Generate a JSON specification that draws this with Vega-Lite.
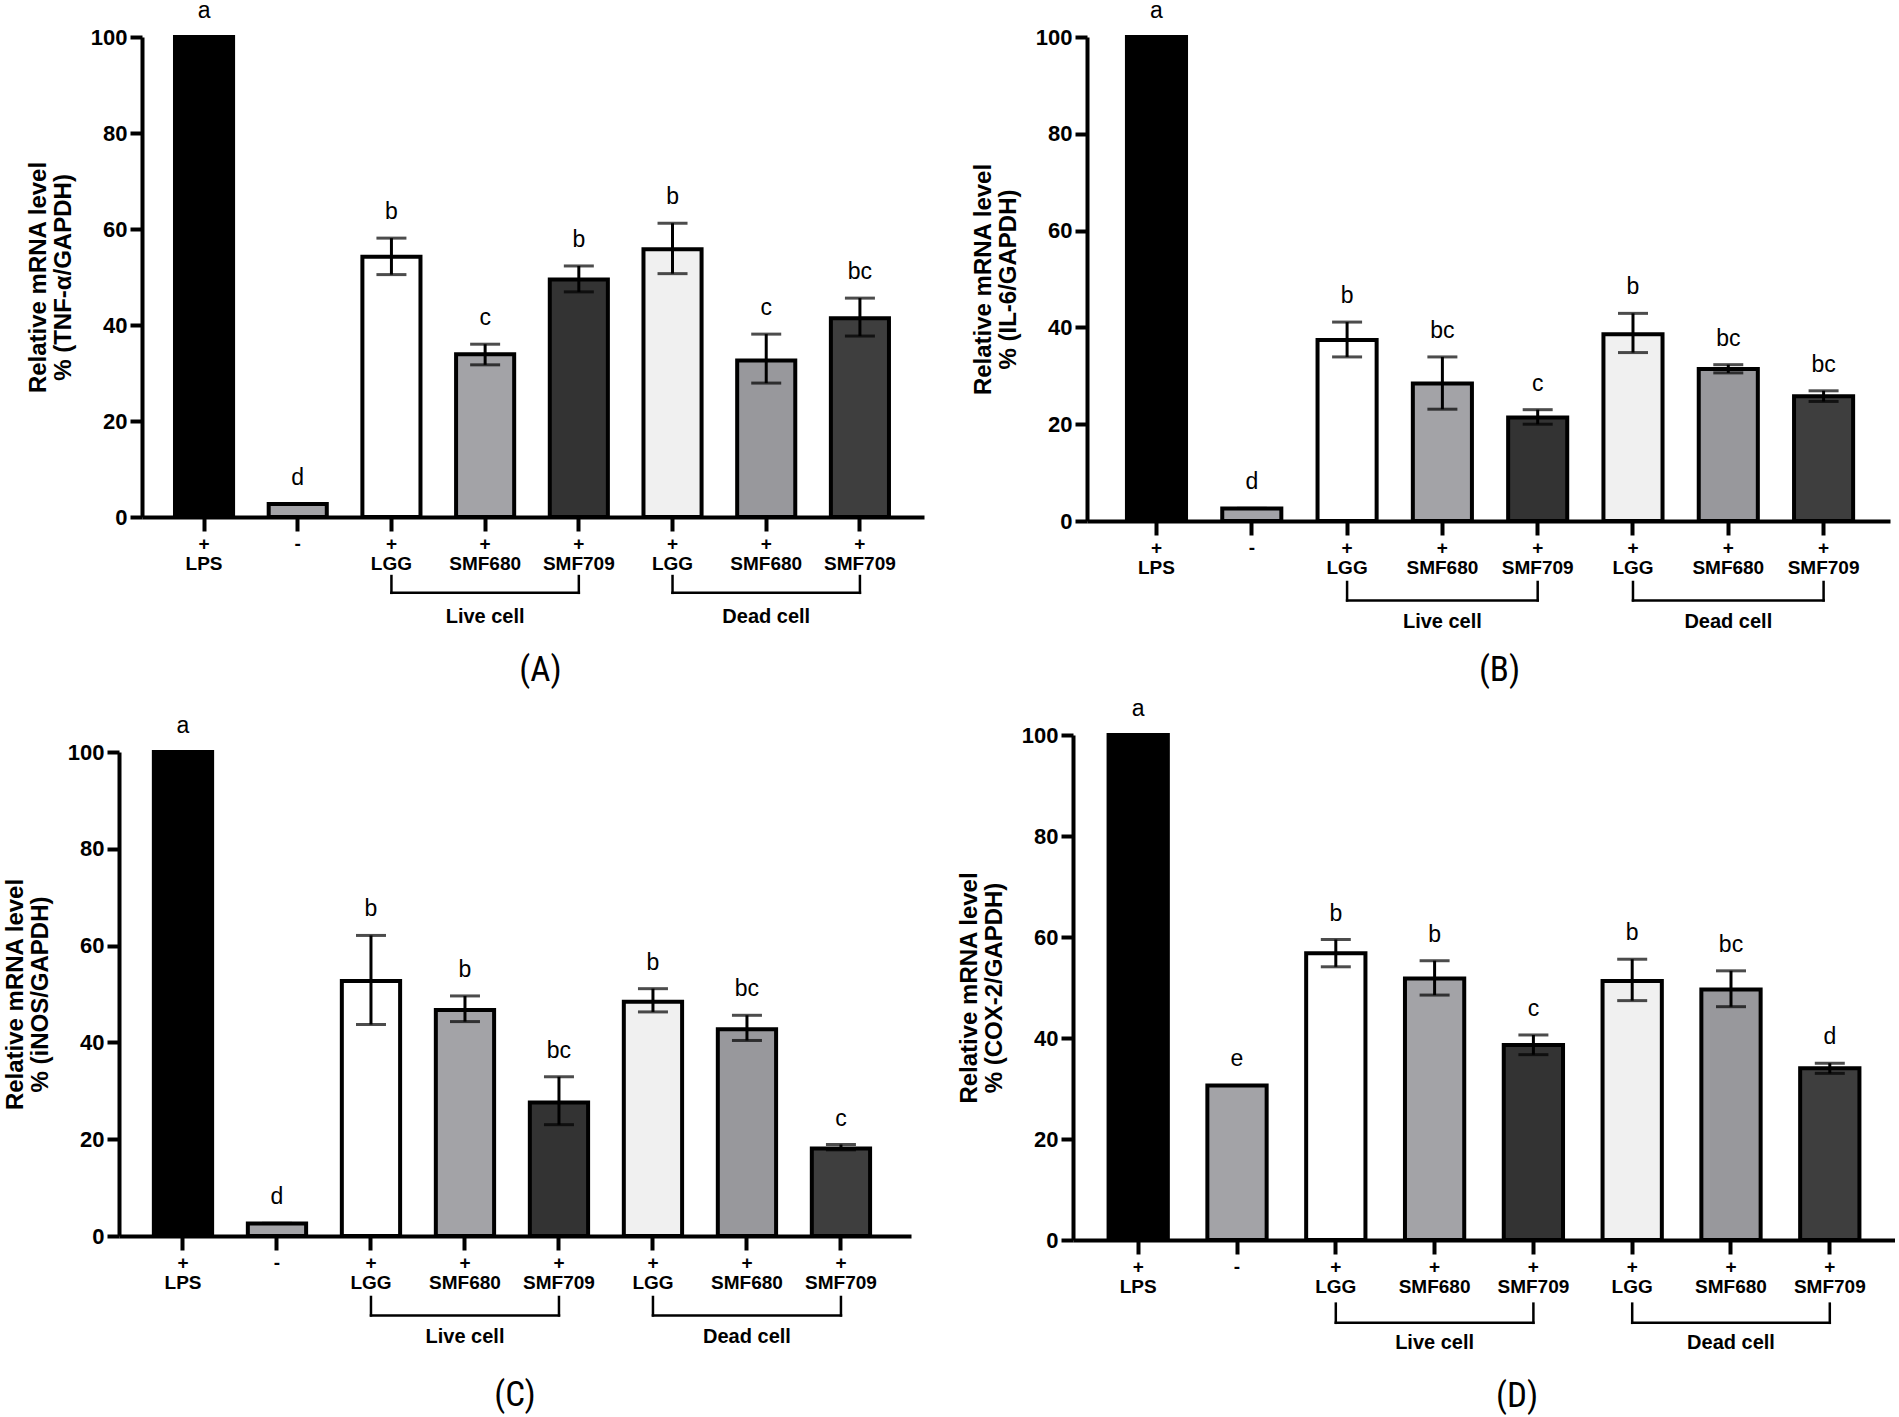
{
  "$schema": "https://vega.github.io/schema/vega-lite/v6.json",
  "padding": {"left": 3, "top": 0, "right": 0, "bottom": 0},
  "background": "white",
  "datasets": {
    "A": [
      {"bar": "LPS", "mean": 100, "lo": 100, "hi": 100, "letter": "a"},
      {"bar": "Control", "mean": 2.7, "lo": 2.7, "hi": 2.7, "letter": "d"},
      {"bar": "Live LGG", "mean": 54.2, "lo": 50.5, "hi": 58.1, "letter": "b"},
      {"bar": "Live SMF680", "mean": 33.9, "lo": 31.7, "hi": 36.0, "letter": "c"},
      {"bar": "Live SMF709", "mean": 49.5, "lo": 46.9, "hi": 52.3, "letter": "b"},
      {"bar": "Dead LGG", "mean": 55.8, "lo": 50.7, "hi": 61.2, "letter": "b"},
      {"bar": "Dead SMF680", "mean": 32.6, "lo": 27.9, "hi": 38.1, "letter": "c"},
      {"bar": "Dead SMF709", "mean": 41.4, "lo": 37.7, "hi": 45.6, "letter": "bc"}
    ],
    "B": [
      {"bar": "LPS", "mean": 100, "lo": 100, "hi": 100, "letter": "a"},
      {"bar": "Control", "mean": 2.6, "lo": 2.6, "hi": 2.6, "letter": "d"},
      {"bar": "Live LGG", "mean": 37.4, "lo": 33.9, "hi": 41.1, "letter": "b"},
      {"bar": "Live SMF680", "mean": 28.4, "lo": 23.1, "hi": 33.9, "letter": "bc"},
      {"bar": "Live SMF709", "mean": 21.4, "lo": 20.0, "hi": 23.0, "letter": "c"},
      {"bar": "Dead LGG", "mean": 38.6, "lo": 34.8, "hi": 42.9, "letter": "b"},
      {"bar": "Dead SMF680", "mean": 31.4, "lo": 30.6, "hi": 32.3, "letter": "bc"},
      {"bar": "Dead SMF709", "mean": 25.8, "lo": 24.7, "hi": 26.9, "letter": "bc"}
    ],
    "C": [
      {"bar": "LPS", "mean": 100, "lo": 100, "hi": 100, "letter": "a"},
      {"bar": "Control", "mean": 2.6, "lo": 2.6, "hi": 2.6, "letter": "d"},
      {"bar": "Live LGG", "mean": 52.7, "lo": 43.7, "hi": 62.1, "letter": "b"},
      {"bar": "Live SMF680", "mean": 46.7, "lo": 44.3, "hi": 49.6, "letter": "b"},
      {"bar": "Live SMF709", "mean": 27.6, "lo": 23.0, "hi": 32.9, "letter": "bc"},
      {"bar": "Dead LGG", "mean": 48.4, "lo": 46.3, "hi": 51.1, "letter": "b"},
      {"bar": "Dead SMF680", "mean": 42.7, "lo": 40.4, "hi": 45.6, "letter": "bc"},
      {"bar": "Dead SMF709", "mean": 18.1, "lo": 17.8, "hi": 18.9, "letter": "c"}
    ],
    "D": [
      {"bar": "LPS", "mean": 100, "lo": 100, "hi": 100, "letter": "a"},
      {"bar": "Control", "mean": 30.6, "lo": 30.6, "hi": 30.6, "letter": "e"},
      {"bar": "Live LGG", "mean": 56.8, "lo": 54.1, "hi": 59.5, "letter": "b"},
      {"bar": "Live SMF680", "mean": 51.8, "lo": 48.5, "hi": 55.3, "letter": "b"},
      {"bar": "Live SMF709", "mean": 38.6, "lo": 36.7, "hi": 40.6, "letter": "c"},
      {"bar": "Dead LGG", "mean": 51.3, "lo": 47.4, "hi": 55.6, "letter": "b"},
      {"bar": "Dead SMF680", "mean": 49.6, "lo": 46.2, "hi": 53.3, "letter": "bc"},
      {"bar": "Dead SMF709", "mean": 34.0, "lo": 33.0, "hi": 35.0, "letter": "d"}
    ],
    "brackets": [
      {"label": "Live cell", "first": "Live LGG", "mid": "Live SMF680", "last": "Live SMF709"},
      {"label": "Dead cell", "first": "Dead LGG", "mid": "Dead SMF680", "last": "Dead SMF709"}
    ]
  },
  "config": {
    "view": {"stroke": null},
    "axis": {
      "domainColor": "black", "domainWidth": 4, "tickColor": "black", "tickWidth": 4,
      "labelColor": "black", "titleColor": "black", "grid": false,
      "labelFont": "Liberation Sans", "titleFont": "Liberation Sans",
      "labelFontWeight": "bold", "titleFontWeight": "bold"
    },
    "axisX": {"tickSize": 14, "labelFontSize": 19, "labelPadding": 3, "labelAngle": 0, "labelBaseline": "top", "labelLineHeight": 20, "labelOverlap": false},
    "axisY": {"tickSize": 12, "labelFontSize": 22, "labelPadding": 3, "titleFontSize": 24, "titlePadding": 15, "titleLineHeight": 25},
    "title": {"font": "Liberation Sans Narrow, Roboto Condensed, DejaVu Sans Condensed, sans-serif", "fontSize": 35, "fontWeight": "normal", "color": "black", "orient": "bottom", "offset": 26}
  },
  "hconcat": [
    {
      "concat": [
        {
          "width": 805, "height": 480,
          "title": {"text": "(A)", "dx": 19},
          "layer": [
            {"data": {"name": "A"}, "mark": {"type": "bar", "stroke": "black", "strokeWidth": 4},
             "encoding": {
               "x": {"field": "bar", "type": "nominal", "title": null, "scale": {"domain": ["LPS","Control","Live LGG","Live SMF680","Live SMF709","Dead LGG","Dead SMF680","Dead SMF709"], "range": [23, 805], "paddingInner": 0.38, "paddingOuter": 0.363, "align": 0.485},
                     "axis": {"labelExpr": "datum.value == 'Control' ? ['-'] : ['+', replace(replace(datum.value, 'Live ', ''), 'Dead ', '')]"}},
               "y": {"field": "mean", "type": "quantitative", "scale": {"domain": [0, 100], "nice": false}, "axis": {"values": [0,20,40,60,80,100], "offset": -23, "title": ["Relative mRNA level", "% (TNF-α/GAPDH)"]}},
               "fill": {"field": "bar", "type": "nominal", "legend": null, "scale": {"domain": ["LPS","Control","Live LGG","Live SMF680","Live SMF709","Dead LGG","Dead SMF680","Dead SMF709"], "range": ["#000000","#a3a3a7","#ffffff","#a3a3a7","#333333","#f0f0f0","#98989c","#3e3e3e"]}}
             }},
            {"data": {"name": "A"}, "mark": {"type": "errorbar", "ticks": {"size": 30, "thickness": 3, "color": "black"}, "rule": {"strokeWidth": 3, "color": "black"}},
             "encoding": {"x": {"field": "bar", "type": "nominal", "title": null}, "y": {"field": "hi", "type": "quantitative", "title": ["Relative mRNA level", "% (TNF-α/GAPDH)"]}, "y2": {"field": "lo"}}},
            {"data": {"name": "A"}, "mark": {"type": "text", "font": "Liberation Sans", "fontSize": 23, "color": "black", "baseline": "middle", "dy": -26},
             "encoding": {"x": {"field": "bar", "type": "nominal", "title": null}, "y": {"field": "hi", "type": "quantitative", "title": ["Relative mRNA level", "% (TNF-α/GAPDH)"]}, "text": {"field": "letter"}}},
            {"data": {"name": "brackets"}, "mark": {"type": "rule", "strokeWidth": 2.5, "color": "black", "strokeCap": "square"},
             "encoding": {"x": {"field": "first", "type": "nominal", "title": null}, "x2": {"field": "last"}, "y": {"datum": -15.8}}},
            {"data": {"name": "brackets"}, "mark": {"type": "rule", "strokeWidth": 2.5, "color": "black", "strokeCap": "square"},
             "encoding": {"x": {"field": "first", "type": "nominal", "title": null}, "y": {"datum": -12.3}, "y2": {"datum": -15.8}}},
            {"data": {"name": "brackets"}, "mark": {"type": "rule", "strokeWidth": 2.5, "color": "black", "strokeCap": "square"},
             "encoding": {"x": {"field": "last", "type": "nominal", "title": null}, "y": {"datum": -12.3}, "y2": {"datum": -15.8}}},
            {"data": {"name": "brackets"}, "mark": {"type": "text", "font": "Liberation Sans", "fontWeight": "bold", "fontSize": 20, "color": "black", "baseline": "middle"},
             "encoding": {"x": {"field": "mid", "type": "nominal", "title": null}, "y": {"datum": -20.8}, "text": {"field": "label"}}}
          ]
        },
        {
          "width": 792, "height": 484,
          "title": {"text": "(C)", "offset": 31},
          "layer": [
            {"data": {"name": "C"}, "mark": {"type": "bar", "stroke": "black", "strokeWidth": 4},
             "encoding": {
               "x": {"field": "bar", "type": "nominal", "title": null, "scale": {"domain": ["LPS","Control","Live LGG","Live SMF680","Live SMF709","Dead LGG","Dead SMF680","Dead SMF709"], "paddingInner": 0.38, "paddingOuter": 0.403, "align": 0.46},
                     "axis": {"labelExpr": "datum.value == 'Control' ? ['-'] : ['+', replace(replace(datum.value, 'Live ', ''), 'Dead ', '')]"}},
               "y": {"field": "mean", "type": "quantitative", "scale": {"domain": [0, 100], "nice": false}, "axis": {"values": [0,20,40,60,80,100], "title": ["Relative mRNA  level", "% (iNOS/GAPDH)"]}},
               "fill": {"field": "bar", "type": "nominal", "legend": null, "scale": {"domain": ["LPS","Control","Live LGG","Live SMF680","Live SMF709","Dead LGG","Dead SMF680","Dead SMF709"], "range": ["#000000","#a3a3a7","#ffffff","#a3a3a7","#333333","#f0f0f0","#98989c","#3e3e3e"]}}
             }},
            {"data": {"name": "C"}, "mark": {"type": "errorbar", "ticks": {"size": 30, "thickness": 3, "color": "black"}, "rule": {"strokeWidth": 3, "color": "black"}},
             "encoding": {"x": {"field": "bar", "type": "nominal", "title": null}, "y": {"field": "hi", "type": "quantitative", "title": ["Relative mRNA  level", "% (iNOS/GAPDH)"]}, "y2": {"field": "lo"}}},
            {"data": {"name": "C"}, "mark": {"type": "text", "font": "Liberation Sans", "fontSize": 23, "color": "black", "baseline": "middle", "dy": -26},
             "encoding": {"x": {"field": "bar", "type": "nominal", "title": null}, "y": {"field": "hi", "type": "quantitative", "title": ["Relative mRNA  level", "% (iNOS/GAPDH)"]}, "text": {"field": "letter"}}},
            {"data": {"name": "brackets"}, "mark": {"type": "rule", "strokeWidth": 2.5, "color": "black", "strokeCap": "square"},
             "encoding": {"x": {"field": "first", "type": "nominal", "title": null}, "x2": {"field": "last"}, "y": {"datum": -16.4}}},
            {"data": {"name": "brackets"}, "mark": {"type": "rule", "strokeWidth": 2.5, "color": "black", "strokeCap": "square"},
             "encoding": {"x": {"field": "first", "type": "nominal", "title": null}, "y": {"datum": -12.6}, "y2": {"datum": -16.4}}},
            {"data": {"name": "brackets"}, "mark": {"type": "rule", "strokeWidth": 2.5, "color": "black", "strokeCap": "square"},
             "encoding": {"x": {"field": "last", "type": "nominal", "title": null}, "y": {"datum": -12.6}, "y2": {"datum": -16.4}}},
            {"data": {"name": "brackets"}, "mark": {"type": "text", "font": "Liberation Sans", "fontWeight": "bold", "fontSize": 20, "color": "black", "baseline": "middle"},
             "encoding": {"x": {"field": "mid", "type": "nominal", "title": null}, "y": {"datum": -20.8}, "text": {"field": "label"}}}
          ]
        }
      ],
      "columns": 1,
      "spacing": 27
    },
    {
      "concat": [
        {
          "width": 817, "height": 484,
          "title": {"text": "(B)", "dx": 18, "offset": 21},
          "layer": [
            {"data": {"name": "B"}, "mark": {"type": "bar", "stroke": "black", "strokeWidth": 4},
             "encoding": {
               "x": {"field": "bar", "type": "nominal", "title": null, "scale": {"domain": ["LPS","Control","Live LGG","Live SMF680","Live SMF709","Dead LGG","Dead SMF680","Dead SMF709"], "range": [14, 817], "paddingInner": 0.38, "paddingOuter": 0.403, "align": 0.52},
                     "axis": {"labelExpr": "datum.value == 'Control' ? ['-'] : ['+', replace(replace(datum.value, 'Live ', ''), 'Dead ', '')]"}},
               "y": {"field": "mean", "type": "quantitative", "scale": {"domain": [0, 100], "nice": false}, "axis": {"values": [0,20,40,60,80,100], "offset": -14, "title": ["Relative mRNA level", "% (IL-6/GAPDH)"]}},
               "fill": {"field": "bar", "type": "nominal", "legend": null, "scale": {"domain": ["LPS","Control","Live LGG","Live SMF680","Live SMF709","Dead LGG","Dead SMF680","Dead SMF709"], "range": ["#000000","#a3a3a7","#ffffff","#a3a3a7","#333333","#f0f0f0","#98989c","#3e3e3e"]}}
             }},
            {"data": {"name": "B"}, "mark": {"type": "errorbar", "ticks": {"size": 30, "thickness": 3, "color": "black"}, "rule": {"strokeWidth": 3, "color": "black"}},
             "encoding": {"x": {"field": "bar", "type": "nominal", "title": null}, "y": {"field": "hi", "type": "quantitative", "title": ["Relative mRNA level", "% (IL-6/GAPDH)"]}, "y2": {"field": "lo"}}},
            {"data": {"name": "B"}, "mark": {"type": "text", "font": "Liberation Sans", "fontSize": 23, "color": "black", "baseline": "middle", "dy": -26},
             "encoding": {"x": {"field": "bar", "type": "nominal", "title": null}, "y": {"field": "hi", "type": "quantitative", "title": ["Relative mRNA level", "% (IL-6/GAPDH)"]}, "text": {"field": "letter"}}},
            {"data": {"name": "brackets"}, "mark": {"type": "rule", "strokeWidth": 2.5, "color": "black", "strokeCap": "square"},
             "encoding": {"x": {"field": "first", "type": "nominal", "title": null}, "x2": {"field": "last"}, "y": {"datum": -16.4}}},
            {"data": {"name": "brackets"}, "mark": {"type": "rule", "strokeWidth": 2.5, "color": "black", "strokeCap": "square"},
             "encoding": {"x": {"field": "first", "type": "nominal", "title": null}, "y": {"datum": -12.6}, "y2": {"datum": -16.4}}},
            {"data": {"name": "brackets"}, "mark": {"type": "rule", "strokeWidth": 2.5, "color": "black", "strokeCap": "square"},
             "encoding": {"x": {"field": "last", "type": "nominal", "title": null}, "y": {"datum": -12.6}, "y2": {"datum": -16.4}}},
            {"data": {"name": "brackets"}, "mark": {"type": "text", "font": "Liberation Sans", "fontWeight": "bold", "fontSize": 20, "color": "black", "baseline": "middle"},
             "encoding": {"x": {"field": "mid", "type": "nominal", "title": null}, "y": {"datum": -20.8}, "text": {"field": "label"}}}
          ]
        },
        {
          "width": 822, "height": 505,
          "title": {"text": "(D)", "dx": 33, "offset": 26},
          "layer": [
            {"data": {"name": "D"}, "mark": {"type": "bar", "stroke": "black", "strokeWidth": 4},
             "encoding": {
               "x": {"field": "bar", "type": "nominal", "title": null, "scale": {"domain": ["LPS","Control","Live LGG","Live SMF680","Live SMF709","Dead LGG","Dead SMF680","Dead SMF709"], "paddingInner": 0.4, "paddingOuter": 0.36},
                     "axis": {"labelExpr": "datum.value == 'Control' ? ['-'] : ['+', replace(replace(datum.value, 'Live ', ''), 'Dead ', '')]"}},
               "y": {"field": "mean", "type": "quantitative", "scale": {"domain": [0, 100], "nice": false}, "axis": {"values": [0,20,40,60,80,100], "title": ["Relative mRNA level", "% (COX-2/GAPDH)"]}},
               "fill": {"field": "bar", "type": "nominal", "legend": null, "scale": {"domain": ["LPS","Control","Live LGG","Live SMF680","Live SMF709","Dead LGG","Dead SMF680","Dead SMF709"], "range": ["#000000","#a3a3a7","#ffffff","#a3a3a7","#333333","#f0f0f0","#98989c","#3e3e3e"]}}
             }},
            {"data": {"name": "D"}, "mark": {"type": "errorbar", "ticks": {"size": 30, "thickness": 3, "color": "black"}, "rule": {"strokeWidth": 3, "color": "black"}},
             "encoding": {"x": {"field": "bar", "type": "nominal", "title": null}, "y": {"field": "hi", "type": "quantitative", "title": ["Relative mRNA level", "% (COX-2/GAPDH)"]}, "y2": {"field": "lo"}}},
            {"data": {"name": "D"}, "mark": {"type": "text", "font": "Liberation Sans", "fontSize": 23, "color": "black", "baseline": "middle", "dy": -26},
             "encoding": {"x": {"field": "bar", "type": "nominal", "title": null}, "y": {"field": "hi", "type": "quantitative", "title": ["Relative mRNA level", "% (COX-2/GAPDH)"]}, "text": {"field": "letter"}}},
            {"data": {"name": "brackets"}, "mark": {"type": "rule", "strokeWidth": 2.5, "color": "black", "strokeCap": "square"},
             "encoding": {"x": {"field": "first", "type": "nominal", "title": null}, "x2": {"field": "last"}, "y": {"datum": -16.4}}},
            {"data": {"name": "brackets"}, "mark": {"type": "rule", "strokeWidth": 2.5, "color": "black", "strokeCap": "square"},
             "encoding": {"x": {"field": "first", "type": "nominal", "title": null}, "y": {"datum": -12.6}, "y2": {"datum": -16.4}}},
            {"data": {"name": "brackets"}, "mark": {"type": "rule", "strokeWidth": 2.5, "color": "black", "strokeCap": "square"},
             "encoding": {"x": {"field": "last", "type": "nominal", "title": null}, "y": {"datum": -12.6}, "y2": {"datum": -16.4}}},
            {"data": {"name": "brackets"}, "mark": {"type": "text", "font": "Liberation Sans", "fontWeight": "bold", "fontSize": 20, "color": "black", "baseline": "middle"},
             "encoding": {"x": {"field": "mid", "type": "nominal", "title": null}, "y": {"datum": -20.4}, "text": {"field": "label"}}}
          ]
        }
      ],
      "columns": 1,
      "spacing": 10
    }
  ],
  "spacing": 33
}
